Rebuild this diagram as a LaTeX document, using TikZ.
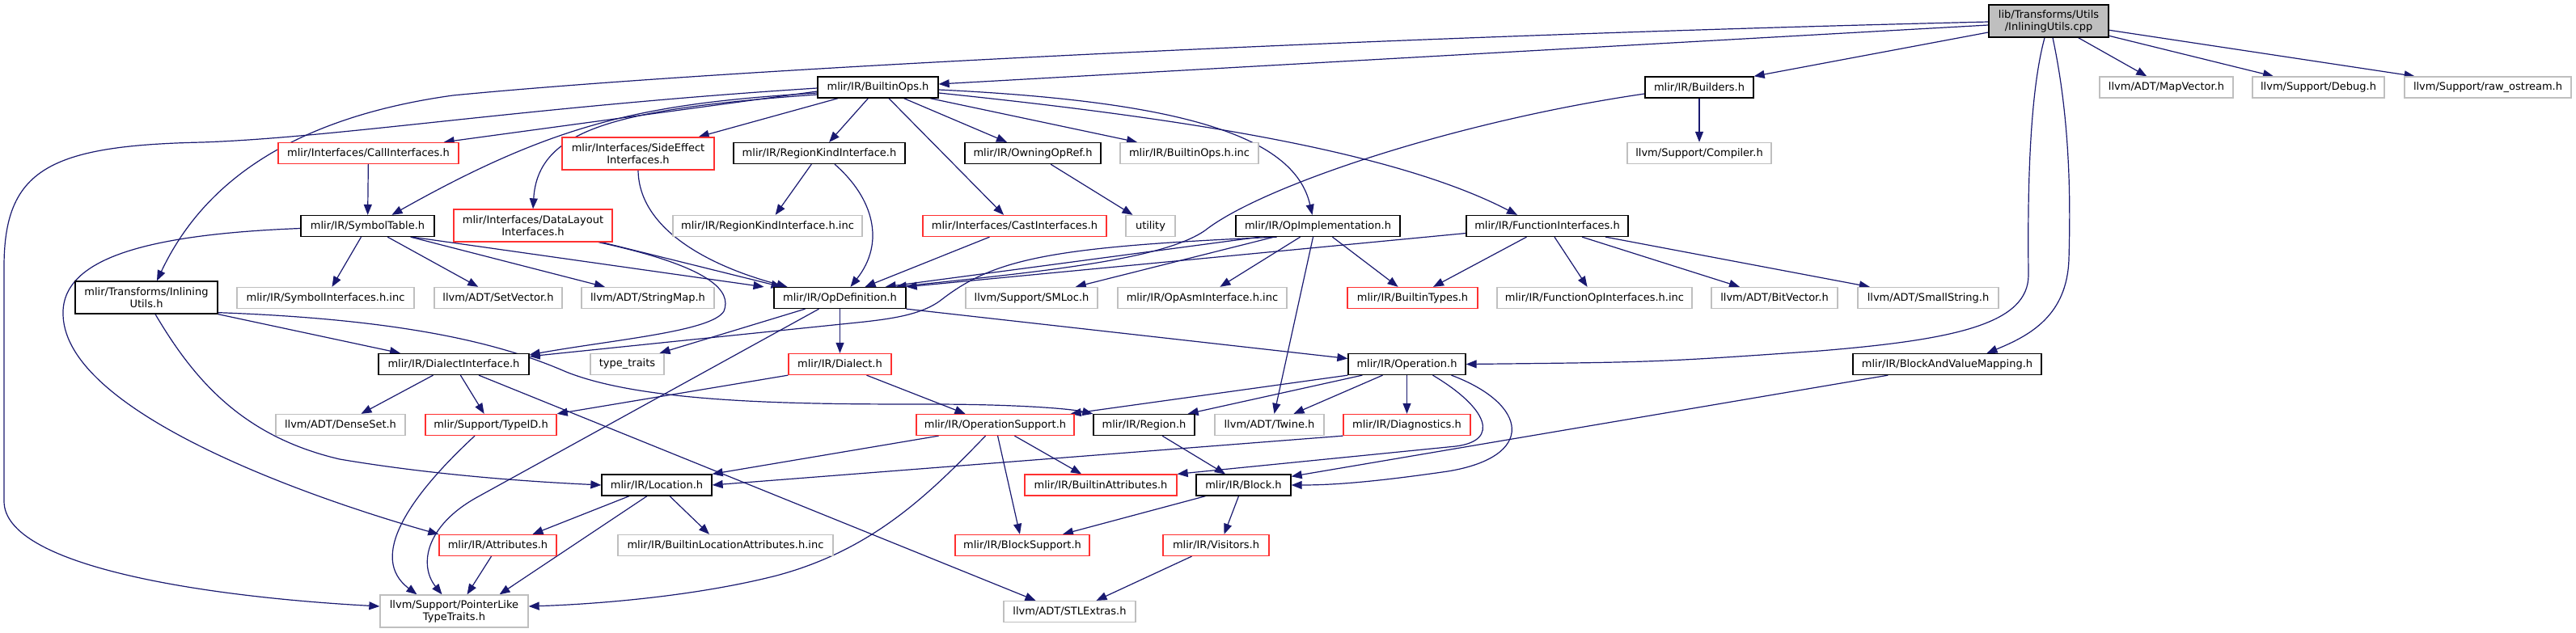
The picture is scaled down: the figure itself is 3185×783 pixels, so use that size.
\documentclass[tikz,border=0pt]{standalone}
\usepackage{fontspec}
\setmainfont{DejaVu Sans}
\usetikzlibrary{arrows.meta}
\pgfdeclarelayer{bg}
\pgfsetlayers{bg,main}
\definecolor{edgecol}{HTML}{191970}
\definecolor{redb}{HTML}{FF3030}
\definecolor{grayb}{HTML}{BFBFBF}
\begin{document}
\begin{tikzpicture}[x=1bp,y=-1bp,
  box/.style={rectangle, draw, line width=1.3bp, inner sep=0pt, minimum height=26bp, font=\fontsize{13bp}{15bp}\selectfont, align=center, fill=white},
  doc/.style={box, draw=black},
  und/.style={box, draw=redb},
  ext/.style={box, draw=grayb},
  rootb/.style={box, draw=black, fill=grayb, minimum height=40bp},
  two/.style={minimum height=40bp},
  conn/.style={draw=edgecol, line width=1.2bp, -{Triangle[length=13bp,width=10bp]}},
]
\useasboundingbox (0,0) rectangle (3185,783);
% nodes
\node[rootb, minimum width=148bp] (root) at (2533,26) {lib/Transforms/Utils\\/InliningUtils.cpp};
\node[doc, minimum width=149bp] (builtinops) at (1085.5,108) {mlir/IR/BuiltinOps.h};
\node[doc, minimum width=134bp] (builders) at (2101,108) {mlir/IR/Builders.h};
\node[ext, minimum width=165bp] (mapvector) at (2678.5,108) {llvm/ADT/MapVector.h};
\node[ext, minimum width=163bp] (debug) at (2866.5,108) {llvm/Support/Debug.h};
\node[ext, minimum width=206bp] (rawos) at (3076,108) {llvm/Support/raw\_ostream.h};

\node[und, minimum width=223bp] (callif) at (455.5,189.5) {mlir/Interfaces/CallInterfaces.h};
\node[und, two, minimum width=188bp] (sideeffect) at (789,190) {mlir/Interfaces/SideEffect\\Interfaces.h};
\node[doc, minimum width=212bp] (regionkind) at (1013,189.5) {mlir/IR/RegionKindInterface.h};
\node[doc, minimum width=168bp] (owning) at (1277,189.5) {mlir/IR/OwningOpRef.h};
\node[ext, minimum width=171bp] (builtinopsinc) at (1470.5,189.5) {mlir/IR/BuiltinOps.h.inc};
\node[ext, minimum width=178bp] (compiler) at (2101,189.5) {llvm/Support/Compiler.h};

\node[doc, minimum width=165bp] (symtab) at (454.5,279.5) {mlir/IR/SymbolTable.h};
\node[und, two, minimum width=196bp] (datalayout) at (659,279) {mlir/Interfaces/DataLayout\\Interfaces.h};
\node[ext, minimum width=234bp] (regionkindinc) at (949,279.5) {mlir/IR/RegionKindInterface.h.inc};
\node[und, minimum width=227bp] (cast) at (1254.5,279.5) {mlir/Interfaces/CastInterfaces.h};
\node[ext, minimum width=61bp] (utility) at (1422.5,279.5) {utility};
\node[doc, minimum width=203bp] (opimpl) at (1629.5,279.5) {mlir/IR/OpImplementation.h};
\node[doc, minimum width=200bp] (funcif) at (1913,279.5) {mlir/IR/FunctionInterfaces.h};

\node[doc, two, minimum width=176bp] (inlh) at (181,368) {mlir/Transforms/Inlining\\Utils.h};
\node[ext, minimum width=219bp] (symifinc) at (402.5,368.5) {mlir/IR/SymbolInterfaces.h.inc};
\node[ext, minimum width=158bp] (setvector) at (616,368.5) {llvm/ADT/SetVector.h};
\node[ext, minimum width=164bp] (stringmap) at (801,368.5) {llvm/ADT/StringMap.h};
\node[doc, minimum width=163bp] (opdef) at (1038.5,368.5) {mlir/IR/OpDefinition.h};
\node[ext, minimum width=163bp] (smloc) at (1275.5,368.5) {llvm/Support/SMLoc.h};
\node[ext, minimum width=209bp] (opasminc) at (1486.5,368.5) {mlir/IR/OpAsmInterface.h.inc};
\node[und, minimum width=161bp] (btypes) at (1746.5,368.5) {mlir/IR/BuiltinTypes.h};
\node[ext, minimum width=241bp] (funcopinc) at (1971.5,368.5) {mlir/IR/FunctionOpInterfaces.h.inc};
\node[ext, minimum width=156bp] (bitvector) at (2194,368.5) {llvm/ADT/BitVector.h};
\node[ext, minimum width=174bp] (smallstring) at (2384,368.5) {llvm/ADT/SmallString.h};

\node[doc, minimum width=186bp] (dialectif) at (561,450.5) {mlir/IR/DialectInterface.h};
\node[ext, minimum width=91bp] (typetraits) at (775.5,450.5) {type\_traits};
\node[und, minimum width=127bp] (dialect) at (1038.5,450.5) {mlir/IR/Dialect.h};
\node[doc, minimum width=145bp] (operation) at (1739.5,450.5) {mlir/IR/Operation.h};
\node[doc, minimum width=233bp] (bavm) at (2407.5,450.5) {mlir/IR/BlockAndValueMapping.h};

\node[ext, minimum width=160bp] (denseset) at (421,525.5) {llvm/ADT/DenseSet.h};
\node[und, minimum width=162bp] (typeid) at (607,525.5) {mlir/Support/TypeID.h};
\node[und, minimum width=195bp] (opsupport) at (1230.5,525.5) {mlir/IR/OperationSupport.h};
\node[doc, minimum width=125bp] (region) at (1414.5,525.5) {mlir/IR/Region.h};
\node[ext, minimum width=135bp] (twine) at (1569.5,525.5) {llvm/ADT/Twine.h};
\node[und, minimum width=157bp] (diag) at (1739.5,525.5) {mlir/IR/Diagnostics.h};

\node[doc, minimum width=136bp] (location) at (812,600) {mlir/IR/Location.h};
\node[und, minimum width=188bp] (battr) at (1361,600) {mlir/IR/BuiltinAttributes.h};
\node[doc, minimum width=117bp] (block) at (1537.5,600) {mlir/IR/Block.h};

\node[und, minimum width=145bp] (attrs) at (615.5,674.5) {mlir/IR/Attributes.h};
\node[ext, minimum width=266bp] (bllocinc) at (897,674.5) {mlir/IR/BuiltinLocationAttributes.h.inc};
\node[und, minimum width=166bp] (blocksupport) at (1264,674.5) {mlir/IR/BlockSupport.h};
\node[und, minimum width=131bp] (visitors) at (1503.5,674.5) {mlir/IR/Visitors.h};

\node[ext, two, minimum width=183bp] (ptrlike) at (561.5,756) {llvm/Support/PointerLike\\TypeTraits.h};
\node[ext, minimum width=163bp] (stlextras) at (1322.5,756.5) {llvm/ADT/STLExtras.h};

\begin{pgfonlayer}{bg}
\fill[white] (0,0) rectangle (3185,783);
% root
\draw[conn] ([yshift=-1bp]root.west) .. controls (1700,45) and (900,85) .. (560,118) .. controls (330,150) and (240,250) .. ([xshift=13bp]inlh.north);
\draw[conn] ([yshift=-5bp]root.west) -- ([yshift=4bp]builtinops.east);
\draw[conn] ([yshift=-14bp]root.west) -- (builders.north east);
\draw[conn] (root) -- (mapvector);
\draw[conn] (root) -- (debug);
\draw[conn] (root) -- (rawos);
\draw[conn] ([xshift=-5bp]root.south) .. controls (2508,120) and (2507,250) .. (2508,340) .. controls (2508,400) and (2420,420) .. (2250,434) .. controls (2050,448) .. (operation.east);
\draw[conn] ([xshift=5bp]root.south) .. controls (2560,150) and (2560,250) .. (2558,320) .. controls (2556,390) and (2510,415) .. ([xshift=49bp]bavm.north);
% builtinops
\draw[conn] ([yshift=-5bp]builtinops.west) -- ([xshift=-19bp]callif.north east);
\draw[conn] ([yshift=-7bp]builtinops.west) .. controls (800,128) and (690,150) .. ([xshift=30bp]symtab.north);
\draw[conn] ([yshift=-9bp]builtinops.west) .. controls (760,135) and (665,160) .. (datalayout.north);
\draw[conn] (builtinops) -- (sideeffect);
\draw[conn] (builtinops) -- (regionkind);
\draw[conn] (builtinops) -- (cast);
\draw[conn] (builtinops) -- (owning);
\draw[conn] (builtinops) -- (builtinopsinc);
\draw[conn] ([yshift=-3bp]builtinops.east) .. controls (1450,125) and (1600,165) .. ([xshift=-7bp]opimpl.north);
\draw[conn] ([yshift=-7bp]builtinops.east) .. controls (1450,145) and (1720,185) .. ([xshift=-37bp]funcif.north);
\draw[conn] ([yshift=-1bp]builtinops.west) .. controls (650,132) and (420,170) .. (250,176) .. controls (60,180) and (5,210) .. (5,330) -- (5,620) .. controls (5,700) and (250,738) .. ([yshift=6bp]ptrlike.west);
% level 2
\draw[conn] (callif) -- (symtab);
\draw[conn] (sideeffect.south) .. controls (790,285) and (880,330) .. ([xshift=-65bp]opdef.north);
\draw[conn] ([xshift=85bp]datalayout.south) -- ([xshift=-72bp]opdef.north);
\draw[conn] ([xshift=81bp]datalayout.south) .. controls (880,330) and (905,360) .. (895,385) .. controls (880,410) and (760,420) .. ([yshift=-2bp]dialectif.north east);
\draw[conn] (regionkind) -- (regionkindinc);
\draw[conn] ([xshift=19bp]regionkind.south) .. controls (1080,245) and (1095,300) .. ([xshift=13bp]opdef.north);
\draw[conn] (owning) -- (utility);
\draw[conn] ([xshift=-31bp]cast.south) -- ([xshift=31bp]opdef.north);
\draw[conn] (builders) -- (compiler);
\draw[conn] ([yshift=-8bp]builders.west) .. controls (1800,150) and (1560,230) .. (1490,285) .. controls (1440,320) and (1300,335) .. ([xshift=-13bp]opdef.north east);
% symbol table
\draw[conn] (symtab) -- (symifinc);
\draw[conn] (symtab) -- (setvector);
\draw[conn] (symtab) -- (stringmap);
\draw[conn] ([xshift=55bp]symtab.south) -- ([xshift=-94bp]opdef.north);
\draw[conn] ([yshift=-3bp]symtab.west) .. controls (180,290) and (75,320) .. (78,390) .. controls (82,510) and (380,615) .. (attrs.north west);
% op implementation / function interfaces
\draw[conn] ([xshift=-72bp]opimpl.south) -- ([xshift=-26bp]opdef.north east);
\draw[conn] ([yshift=-9bp]funcif.west) -- (opdef.north east);
\draw[conn] ([xshift=-51bp]opimpl.south) .. controls (1300,305) and (1230,320) .. (1165,370) .. controls (1140,390) and (1100,395) .. (1050,400) -- ([yshift=-4bp]dialectif.north east);
\draw[conn] (opimpl) -- (smloc);
\draw[conn] (opimpl) -- (opasminc);
\draw[conn] (opimpl) -- (btypes);
\draw[conn] ([xshift=-6bp]opimpl.south) -- ([xshift=6bp]twine.north);
\draw[conn] (funcif) -- (btypes);
\draw[conn] (funcif) -- (funcopinc);
\draw[conn] (funcif) -- (bitvector);
\draw[conn] (funcif) -- (smallstring);
% inlining utils header
\draw[conn] (inlh.south east) -- ([xshift=-66bp]dialectif.north);
\draw[conn] ([yshift=2bp]inlh.south east) .. controls (500,395) and (620,425) .. (700,460) .. controls (800,500) and (1000,500) .. (1150,500) .. controls (1250,500) and (1320,505) .. (region.north west);
\draw[conn] ([xshift=11bp]inlh.south) .. controls (240,470) and (300,540) .. (420,568) .. controls (550,590) and (680,597) .. (location.west);
% op definition
\draw[conn] ([xshift=-43bp]opdef.south) -- ([xshift=40bp]typetraits.north);
\draw[conn] ([xshift=-26bp]opdef.south) -- (590,615) .. controls (525,651) and (518,700) .. ([xshift=-15bp]ptrlike.north);
\draw[conn] (opdef) -- (dialect);
\draw[conn] (opdef.south east) -- ([yshift=7bp]operation.west);
% dialect interface, dialect
\draw[conn] (dialectif) -- (denseset);
\draw[conn] (dialectif) -- (typeid);
\draw[conn] ([xshift=31bp]dialectif.south) -- ([xshift=-42bp]stlextras.north);
\draw[conn] (dialect.south west) -- (typeid.north east);
\draw[conn] ([xshift=33bp]dialect.south) -- ([xshift=-37bp]opsupport.north);
% operation
\draw[conn] (operation.south west) -- ([xshift=-5bp]opsupport.north east);
\draw[conn] ([xshift=18bp]operation.south west) -- ([xshift=-9bp]region.north east);
\draw[conn] ([xshift=-30bp]operation.south) -- ([xshift=30bp]twine.north);
\draw[conn] (operation) -- (diag);
\draw[conn] ([xshift=32bp]operation.south) .. controls (1840,505) and (1855,545) .. (1800,552) -- (battr.north east);
\draw[conn] ([xshift=55bp]operation.south) .. controls (1890,500) and (1900,565) .. (1790,583) .. controls (1700,596) and (1650,600) .. (block.east);
\draw[conn] ([xshift=44bp]bavm.south west) -- ([yshift=-3bp]block.north east);
% lower
\draw[conn] (region) -- (block);
\draw[conn] ([xshift=-70bp]opsupport.south) -- (location.north east);
\draw[conn] (opsupport) -- (battr);
\draw[conn] (opsupport) -- (blocksupport);
\draw[conn] ([xshift=-12bp]opsupport.south) .. controls (1150,610) and (1080,680) .. (960,712) .. controls (850,740) and (720,748) .. ([yshift=6bp]ptrlike.east);
\draw[conn] (diag.south west) -- (location.east);
\draw[conn] ([xshift=-34bp]location.south) -- ([xshift=43bp]attrs.north);
\draw[conn] ([xshift=-12bp]location.south) -- ([xshift=56bp]ptrlike.north);
\draw[conn] ([xshift=16bp]location.south) -- ([xshift=-20bp]bllocinc.north);
\draw[conn] ([xshift=-8bp]attrs.south) -- ([xshift=16bp]ptrlike.north);
\draw[conn] ([xshift=-20bp]typeid.south) .. controls (505,615) and (455,690) .. ([xshift=-46bp]ptrlike.north);
\draw[conn] ([xshift=-47bp]block.south) -- ([xshift=50bp]blocksupport.north);
\draw[conn] ([xshift=-6bp]block.south) -- ([xshift=10bp]visitors.north);
\draw[conn] ([xshift=-30bp]visitors.south) -- ([xshift=33bp]stlextras.north);
\end{pgfonlayer}
\end{tikzpicture}
\end{document}
